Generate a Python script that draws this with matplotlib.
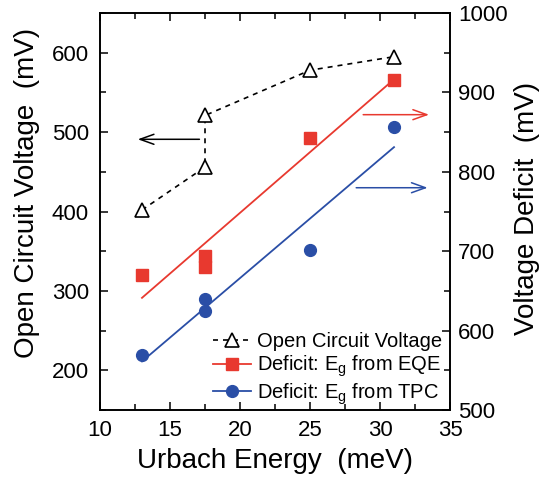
import numpy as np
import matplotlib
matplotlib.use('Agg')
import matplotlib.pyplot as plt
from matplotlib.lines import Line2D
from matplotlib.ticker import MultipleLocator

plt.rcParams['font.family'] = ['Liberation Sans', 'DejaVu Sans']
plt.rcParams['mathtext.default'] = 'regular'

# Urbach energy of each cell (meV)
urbach = [13, 17.5, 17.5, 25, 31]
# open circuit voltage (mV), in the order the dashed line joins them
voc = [402, 456, 521, 578, 595]
# voltage deficit (mV) with the band gap taken from EQE and from TPC
deficitEQE = [670, 694, 680, 843, 916]
deficitTPC = [569, 640, 625, 701, 856]

RED = '#e8392f'
BLUE = '#2a4ea6'

fig = plt.figure(figsize=(5.42, 4.83), dpi=100)
ax = fig.add_axes([0.1845, 0.151, 0.6458, 0.822])
ax2 = ax.twinx()

# Voc on the left axis
ax.plot(urbach, voc, color='black', ls=(0, (3, 3)), lw=1.2,
        marker='^', ms=10.5, mfc='white', mec='black', mew=1.2)

# deficits on the right axis, with straight-line fits
xs = np.array([min(urbach), max(urbach)])
for y, c, m in [(deficitEQE, RED, 's'), (deficitTPC, BLUE, 'o')]:
    k, b = np.polyfit(urbach, y, 1)
    ax2.plot(xs, k * xs + b, color=c, lw=1.3)
    ax2.plot(urbach, y, ls='none', marker=m, ms=8.5, color=c, mec=c)

# arrows showing which axis belongs to which data
arr = dict(arrowstyle='->,head_length=1.0,head_width=0.36', lw=1.1)
ax.annotate('', xy=(12.5, 491), xytext=(17.3, 491),
            arrowprops=dict(arr, color='black'))
ax2.annotate('', xy=(33.7, 872), xytext=(28.6, 872),
             arrowprops=dict(arr, color=RED))
ax2.annotate('', xy=(33.6, 780), xytext=(28.1, 780),
             arrowprops=dict(arr, color=BLUE))

ax.set_xlim(10, 35)
ax.set_ylim(150, 650)
ax2.set_ylim(500, 1000)
ax.xaxis.set_major_locator(MultipleLocator(5))
ax.xaxis.set_minor_locator(MultipleLocator(2.5))
ax.yaxis.set_major_locator(MultipleLocator(100))
ax.yaxis.set_minor_locator(MultipleLocator(50))
ax.set_yticks([200, 300, 400, 500, 600])
ax2.yaxis.set_major_locator(MultipleLocator(100))
ax2.yaxis.set_minor_locator(MultipleLocator(50))

ax.tick_params(which='both', direction='in', top=True, right=False, labelsize=16)
ax.tick_params(which='major', length=6, width=1.1)
ax.tick_params(which='minor', length=4, width=1.1)
ax.tick_params(axis='x', pad=7)
ax.tick_params(axis='y', pad=8)
ax2.tick_params(which='both', direction='in', labelsize=16, pad=6)
ax2.tick_params(which='major', length=6, width=1.1)
ax2.tick_params(which='minor', length=4, width=1.1)
for a in (ax, ax2):
    for s in a.spines.values():
        s.set_linewidth(1.2)

ax.set_xlabel('Urbach Energy  (meV)', fontsize=20)
ax.set_ylabel('Open Circuit Voltage  (mV)', fontsize=20)
ax2.set_ylabel('Voltage Deficit  (mV)', fontsize=20)
ax.yaxis.set_label_coords(-0.17, 0.547)
ax2.yaxis.set_label_coords(1.183, 0.509)
ax.xaxis.set_label_coords(0.5, -0.095)

handles = [
    Line2D([], [], color='black', ls=(0, (3, 3)), lw=1.2, marker='^', ms=10.5,
           mfc='white', mec='black', mew=1.2),
    Line2D([], [], color=RED, lw=1.3, marker='s', ms=8.5),
    Line2D([], [], color=BLUE, lw=1.3, marker='o', ms=8.5),
]
labels = ['Open Circuit Voltage', 'Deficit: E$_g$ from EQE', 'Deficit: E$_g$ from TPC']
ax2.legend(handles, labels, loc='lower right', frameon=False, fontsize=14.5,
           handlelength=1.9, handletextpad=0.3, labelspacing=0.12,
           borderaxespad=0, bbox_to_anchor=(1.0, -0.012))

fig.savefig('out.png', dpi=100)
